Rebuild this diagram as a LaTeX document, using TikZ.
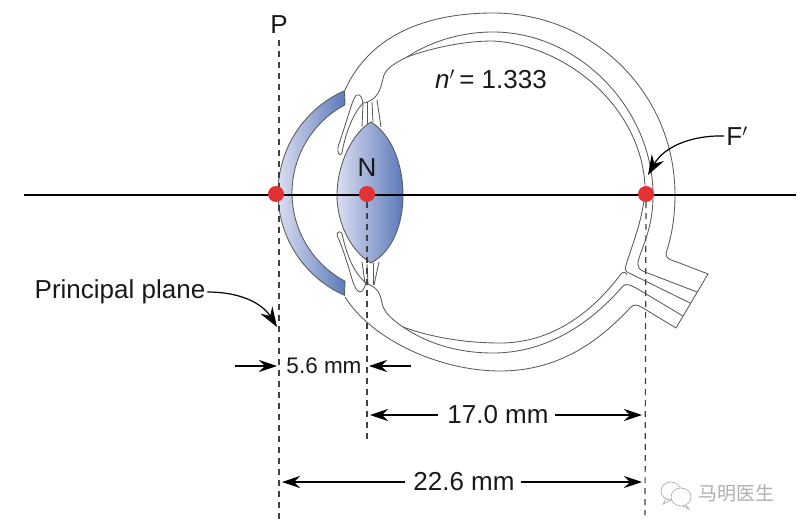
\documentclass[tikz,border=0pt]{standalone}
\usepackage{fontspec}
\setmainfont{Liberation Sans}
\newfontfamily\cjk{Noto Sans CJK SC}
\usetikzlibrary{arrows.meta}
\definecolor{eyeline}{RGB}{90,90,90}
\definecolor{dotred}{RGB}{226,50,52}
\definecolor{paleblue}{RGB}{218,222,241}
\definecolor{deepblue}{RGB}{92,122,186}
\definecolor{markgray}{RGB}{175,175,175}
\tikzset{
	eye/.style={draw=eyeline, line width=0.85pt},
	guide/.style={draw=black!75, line width=1.2pt, dash pattern=on 6pt off 5pt},
	dot/.style={circle, fill=dotred, minimum size=16pt, inner sep=0pt},
	lab/.style={font=\fontsize{26}{26}\selectfont, inner sep=0pt, text=black!90},
	dim/.style={-{Stealth[length=18pt,width=12pt,inset=6pt]}, line width=1.2pt},
	lead/.style={-{Stealth[length=20pt,width=14pt,inset=7pt]}, line width=1.2pt},
}
\begin{document}
\begin{tikzpicture}[x=1pt,y=-1pt]
	\useasboundingbox (0,0) rectangle (800,530);
	% sclera
	\draw [eye] (345,90) .. controls (372,30) and (435,13) .. (493,13)
		.. controls (593,13) and (675,93) .. (675,195)
		.. controls (675,215) and (672,235) .. (667,250)
		.. controls (664,258) and (668,259) .. (677,262) -- (708,274) -- (676,328) -- (643,308)
		.. controls (636,304) and (634,304) .. (630,308)
		.. controls (600,340) and (560,371) .. (500,371)
		.. controls (440,371) and (372,340) .. (345,297);
	% choroid and retina
	\draw [eye] (407,57) .. controls (430,42) and (460,32) .. (493,32)
		.. controls (580,32) and (653,110) .. (653,195)
		.. controls (653,225) and (645,240) .. (639,258)
		.. controls (636,268) and (640,270) .. (645,272) -- (697,292);
	\draw [eye] (407,57) .. controls (435,47) and (465,41) .. (493,41)
		.. controls (565,45) and (640,105) .. (645,185)
		.. controls (645,215) and (632,245) .. (626,265)
		.. controls (625,269) and (625,271) .. (627,272) -- (690,303);
	\draw [eye] (407,57) .. controls (395,63) and (387,68) .. (384,75)
		.. controls (381,85) and (381,92) .. (373,99) .. controls (370,101) and (366,103) .. (363,103);
	\draw [eye] (627,275) .. controls (625,271) and (623,272) .. (621,274)
		.. controls (590,315) and (550,343) .. (500,343)
		.. controls (465,343) and (430,337) .. (403,327);
	\draw [eye] (683,316) -- (636,288) .. controls (630,285) and (626,283) .. (623,286)
		.. controls (585,330) and (540,353) .. (493,353)
		.. controls (455,353) and (425,342) .. (403,327)
		.. controls (390,318) and (384,312) .. (382,303)
		.. controls (380,293) and (378,288) .. (366,283);
	% ciliary body
	\draw [eye] (363,103) .. controls (362,97) and (360,94) .. (357,95)
		.. controls (353,97) and (352,105) .. (338,147)
		.. controls (337,152) and (340,158) .. (342,153)
		.. controls (345,135) and (352,115) .. (363,103);
	\draw [eye] (366,283) .. controls (364,290) and (361,294) .. (358,291)
		.. controls (352,287) and (350,265) .. (337,235)
		.. controls (337,231) and (341,231) .. (342,234)
		.. controls (347,255) and (353,272) .. (366,283);
	\foreach \xa/\ya/\xb/\yb in {363/103/362/127, 367/102/367/124, 372/102/373/122, 377/100/381/127, 362/262/365/283, 367/264/368/285, 373/263/373/285, 379/262/374/285} {
		\draw [eye] (\xa,\ya) -- (\xb,\yb);
	}
	% cornea
	\draw [eye, left color=paleblue, right color=deepblue]
		plot [domain=-66:66, samples=40] ({390-112*cos(\x)},{193+112*sin(\x)})
		-- plot [domain=62:-62, samples=40] ({392-100*cos(\x)},{193+100*sin(\x)}) -- cycle;
	% lens
	\draw [eye, left color=paleblue, right color=deepblue]
		(371,122) .. controls (352,133) and (337,165) .. (337,195)
		.. controls (337,225) and (352,252) .. (371,263)
		.. controls (392,252) and (403,225) .. (403,195)
		.. controls (403,165) and (392,135) .. (371,122) -- cycle;
	% dashed planes
	\coordinate (ptop) at (279,40);
	\coordinate (pbot) at (279,520);
	\coordinate (nbot) at (367,443);
	\coordinate (fbot) at (645,515);
	\coordinate (axisl) at (24,195);
	\coordinate (axisr) at (796,195);
	\draw [guide] (ptop) -- (pbot);
	\draw [black, line width=2pt] (axisl) -- (axisr);
	\node (pdot) [dot] at (276,194) {};
	\node (ndot) [dot] at (367,194) {};
	\node (fdot) [dot] at (646,194) {};
	\draw [guide] (ndot) -- (nbot);
	\draw [guide] (fdot) -- (fbot);
	% labels
	\node (plabel) [lab] at (279,25) {P};
	\node (nlabel) [lab] at (367,168) {N};
	\node (index) [lab] at (491,79) {\textit{n}$'$\,= 1.333};
	\node (flabel) [lab] at (737,136) {F$'$};
	\node (principal) [lab] at (120,292) {Principal plane};
	\node (small) [lab, font=\fontsize{22.5}{22.5}\selectfont] at (324,366) {5.6 mm};
	\node (middle) [lab] at (498,415) {17.0 mm};
	\node (large) [lab] at (464,482) {22.6 mm};
	% leader arrows
	\coordinate (ptip) at (277,327);
	\coordinate (ftip) at (648,175);
	\draw [lead] (principal.east) ++(2,0) .. controls (240,292) and (262,303) .. (ptip);
	\draw [lead] (flabel.west) ++(-2,0) .. controls (695,135) and (665,145) .. (ftip);
	% dimensions
	\coordinate (sa) at (235,366);
	\coordinate (sb) at (277,366);
	\coordinate (sc) at (411,366);
	\coordinate (sd) at (369,366);
	\coordinate (ma) at (370,415);
	\coordinate (mb) at (642,415);
	\coordinate (la) at (282,482);
	\coordinate (lb) at (642,482);
	\draw [dim] (sa) -- (sb);
	\draw [dim] (sc) -- (sd);
	\draw [dim] (middle.west) ++(-9,0) -- (ma);
	\draw [dim] (middle.east) ++(6,0) -- (mb);
	\draw [dim] (large.west) ++(-8,0) -- (la);
	\draw [dim] (large.east) ++(6,0) -- (lb);
	% watermark
	\node (mark) [inner sep=0pt, text=markgray, font=\fontsize{19}{19}\cjk] at (736,493) {马明医生};
	\draw [markgray, line width=0.7pt, fill=white] (671,491) ellipse (10pt and 9pt);
	\draw [markgray, line width=0.7pt] (666,499) -- (663,504) -- (671,500);
	\draw [markgray, line width=0.7pt, fill=white] (681,497) ellipse (10pt and 9pt);
	\draw [markgray, line width=0.7pt] (686,505) -- (689,509) -- (683,506);
\end{tikzpicture}
\end{document}
